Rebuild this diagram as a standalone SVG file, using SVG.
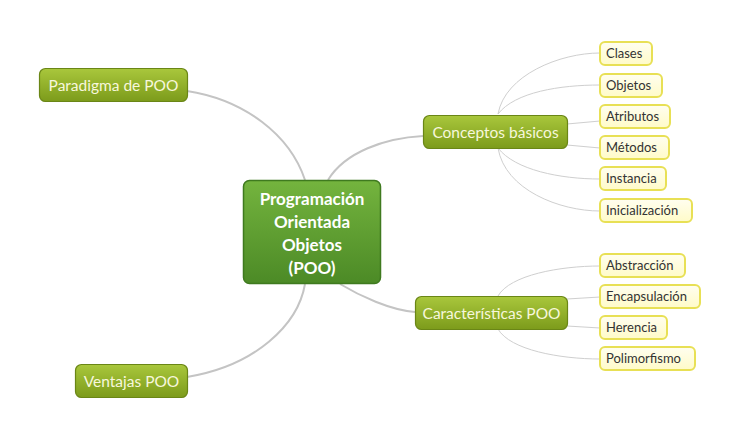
<svg xmlns="http://www.w3.org/2000/svg" width="738" height="436" viewBox="0 0 738 436">
<defs>
<linearGradient id="gMain" x1="0" y1="0" x2="0" y2="1"><stop offset="0" stop-color="#74b43e"/><stop offset="1" stop-color="#4c8a26"/></linearGradient>
<linearGradient id="gSub" x1="0" y1="0" x2="0" y2="1"><stop offset="0" stop-color="#a9c73c"/><stop offset="1" stop-color="#7c9b1b"/></linearGradient>
<linearGradient id="gLeaf" x1="0" y1="0" x2="0" y2="1"><stop offset="0" stop-color="#fffef0"/><stop offset="1" stop-color="#fffbc8"/></linearGradient>
<style>
.main{fill:url(#gMain);stroke:#3f7a1f;stroke-width:1.5}
.sub{fill:url(#gSub);stroke:#6a8616;stroke-width:1.2}
.leaf{fill:url(#gLeaf);stroke:#e8e055;stroke-width:2}
.tm{font-family:Lato,"Liberation Sans",sans-serif;font-weight:bold;font-size:17px;fill:#ffffff;text-anchor:middle}
.ts{font-family:Lato,"Liberation Sans",sans-serif;font-size:15.5px;fill:#f7f7dc;text-anchor:middle}
.tl{font-family:Lato,"Liberation Sans",sans-serif;font-size:13px;fill:#333333}
.c1{fill:none;stroke:#c4c4c4;stroke-width:2}
.c2{fill:none;stroke:#cfcfcf;stroke-width:1}
</style>
</defs>
<rect width="738" height="436" fill="#ffffff"/>
<g id="connectors">
<path class="c1" d="M187,91 C245,100 290,135 305,180"/>
<path class="c1" d="M187,377 C255,366 298,325 305,284"/>
<path class="c1" d="M328,180 C345,152 385,138 423,136"/>
<path class="c1" d="M340,284 C360,296 390,310 415,312"/>
<path class="c2" d="M498,114 C505,75 560,53 600,53"/>
<path class="c2" d="M498,114 C515,92 560,85 600,85"/>
<path class="c2" d="M567,124 L600,121"/>
<path class="c2" d="M567,145 L600,148"/>
<path class="c2" d="M498,148 C515,170 560,179 600,179"/>
<path class="c2" d="M498,148 C505,190 560,211 600,211"/>
<path class="c2" d="M498,296 C510,275 560,266 600,266"/>
<path class="c2" d="M567,299 L600,297"/>
<path class="c2" d="M567,326 L600,328"/>
<path class="c2" d="M498,329 C510,350 560,359 600,359"/>
</g>
<g id="main"><rect class="main" x="243.5" y="180.5" width="137" height="103" rx="6"/>
<text class="tm" x="312" y="205">Programación</text>
<text class="tm" x="312" y="228">Orientada</text>
<text class="tm" x="312" y="251">Objetos</text>
<text class="tm" x="312" y="274">(POO)</text></g>
<g id="paradigma"><rect class="sub" x="39.5" y="68.5" width="148" height="33" rx="6"/><text class="ts" x="113.5" y="91">Paradigma de POO</text></g>
<g id="ventajas"><rect class="sub" x="75.5" y="364.5" width="112" height="33" rx="6"/><text class="ts" x="131.5" y="387">Ventajas POO</text></g>
<g id="conceptos"><rect class="sub" x="423.5" y="115.5" width="144" height="33" rx="6"/><text class="ts" x="495.5" y="138">Conceptos básicos</text></g>
<g id="caracteristicas"><rect class="sub" x="415.5" y="296.5" width="152" height="33" rx="6"/><text class="ts" x="491.5" y="319">Características POO</text></g>
<g id="clases"><rect class="leaf" x="600" y="42" width="52" height="23" rx="5"/><text class="tl" x="606" y="58">Clases</text></g>
<g id="objetos"><rect class="leaf" x="600" y="74" width="62" height="23" rx="5"/><text class="tl" x="606" y="90">Objetos</text></g>
<g id="atributos"><rect class="leaf" x="600" y="105" width="70" height="23" rx="5"/><text class="tl" x="606" y="121">Atributos</text></g>
<g id="metodos"><rect class="leaf" x="600" y="136" width="69" height="23" rx="5"/><text class="tl" x="606" y="152">Métodos</text></g>
<g id="instancia"><rect class="leaf" x="600" y="167" width="66" height="23" rx="5"/><text class="tl" x="606" y="183">Instancia</text></g>
<g id="inicializacion"><rect class="leaf" x="600" y="199" width="92" height="23" rx="5"/><text class="tl" x="606" y="215">Inicialización</text></g>
<g id="abstraccion"><rect class="leaf" x="600" y="254" width="85" height="23" rx="5"/><text class="tl" x="606" y="270">Abstracción</text></g>
<g id="encapsulacion"><rect class="leaf" x="600" y="285" width="100" height="23" rx="5"/><text class="tl" x="606" y="301">Encapsulación</text></g>
<g id="herencia"><rect class="leaf" x="600" y="316" width="67" height="23" rx="5"/><text class="tl" x="606" y="332">Herencia</text></g>
<g id="polimorfismo"><rect class="leaf" x="600" y="347" width="95" height="23" rx="5"/><text class="tl" x="606" y="363">Polimorfismo</text></g>
</svg>
